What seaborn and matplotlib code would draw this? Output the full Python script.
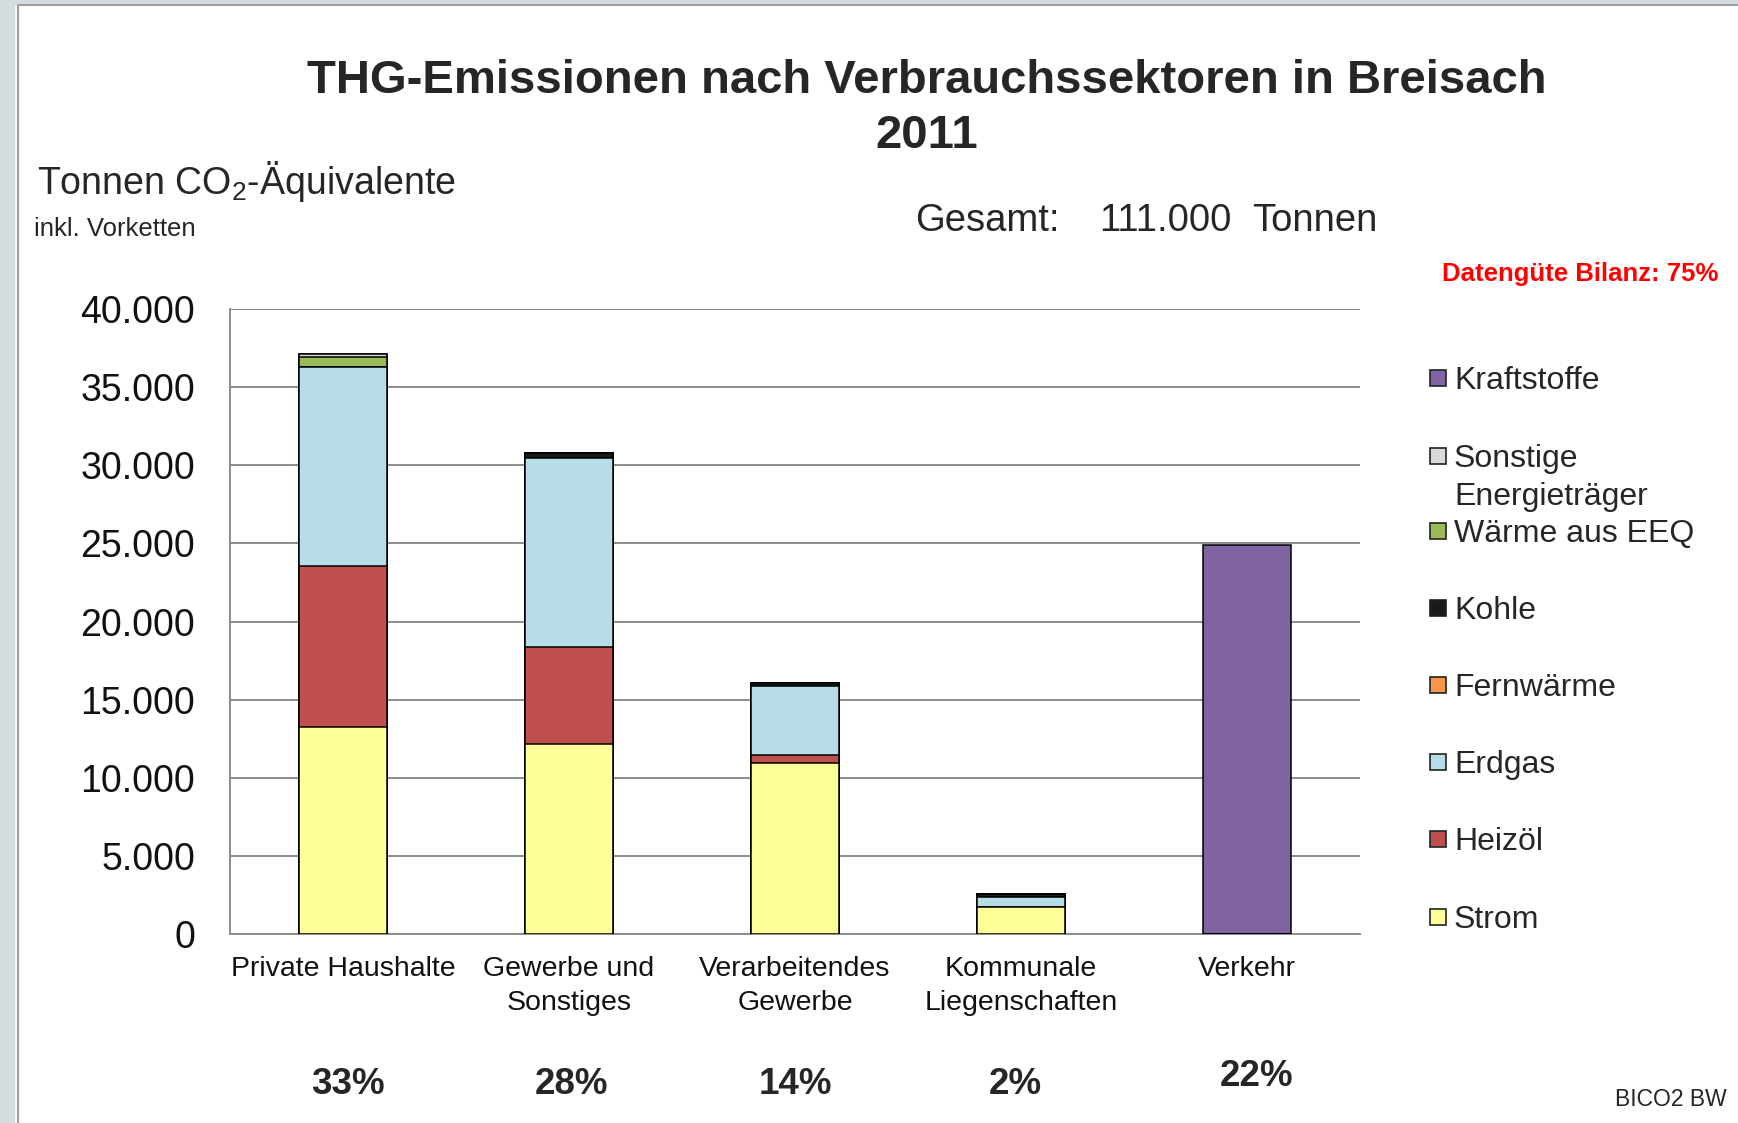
import numpy as np
import pandas as pd
import matplotlib
matplotlib.use("Agg")
import matplotlib.pyplot as plt
import seaborn as sns
from matplotlib.patches import Rectangle
from matplotlib.lines import Line2D
from matplotlib.ticker import FuncFormatter, FixedLocator

# Sectors (x categories)
sektoren = ["Private Haushalte", "Gewerbe und\nSonstiges", "Verarbeitendes\nGewerbe",
            "Kommunale\nLiegenschaften", "Verkehr"]

# Energy carriers, stacked bottom -> top (t CO2-eq)
traeger = ["Strom", "Heizöl", "Erdgas", "Fernwärme", "Kohle", "Wärme aus EEQ",
           "Sonstige\nEnergieträger", "Kraftstoffe"]
strom = [13280, 12140, 10960, 1750, 0]
heizoel = [10280, 6220, 520, 0, 0]
erdgas = [12740, 12110, 4400, 590, 0]
fernwaerme = [0, 0, 0, 0, 0]
kohle = [0, 300, 170, 190, 0]
waerme_eeq = [620, 0, 0, 0, 0]
sonstige = [200, 0, 0, 0, 0]
kraftstoffe = [0, 0, 0, 0, 24900]

anteile = ["33%", "28%", "14%", "2%", "22%"]
y_ticks = [0, 5000, 10000, 15000, 20000, 25000, 30000, 35000, 40000]

farben = ["#FFFF99", "#C0504D", "#B7DEE8", "#F79646", "#1A1A1A", "#9BBB59",
          "#D9D9D9", "#8064A2"]

W, H = 1738, 1123

# long table + cumulative sums for the stacked look
werte = [strom, heizoel, erdgas, fernwaerme, kohle, waerme_eeq, sonstige, kraftstoffe]
df = pd.DataFrame({
    "Sektor": np.tile(sektoren, len(traeger)),
    "Traeger": np.repeat(traeger, len(sektoren)),
    "Wert": np.concatenate(werte),
})
df["Traeger"] = pd.Categorical(df["Traeger"], categories=traeger, ordered=True)
df = df.sort_values(["Sektor", "Traeger"])
df["Kumuliert"] = df.groupby("Sektor")["Wert"].cumsum()

sns.set_style("white")
plt.rcParams["font.family"] = ["Liberation Sans", "DejaVu Sans"]
plt.rcParams["mathtext.fontset"] = "custom"
plt.rcParams["mathtext.rm"] = "Liberation Sans"

fig = plt.figure(figsize=(W / 100, H / 100), dpi=100)
ax = fig.add_axes([230 / W, 1 - 934 / H, 1130 / W, 625 / H])


def px(x, y):
    return x / W, 1 - y / H


grau = "#8C8C8C"

# draw from top layer down so lower layers cover the cumulative bars
for i in range(len(traeger) - 1, -1, -1):
    sub = df[df["Traeger"] == traeger[i]]
    sns.barplot(data=sub, x="Sektor", y="Kumuliert", order=sektoren, color=farben[i],
                saturation=1, width=0.39, edgecolor="black", linewidth=1.1,
                errorbar=None, ax=ax, zorder=3)

ax.set_xlim(-0.5, 4.5)
ax.set_ylim(0, 40000)
ax.set_xlabel("")
ax.set_ylabel("")
ax.set_yticks(y_ticks)
ax.yaxis.set_major_formatter(FuncFormatter(lambda v, p: f"{v:,.0f}".replace(",", ".")))
ax.yaxis.grid(True, color=grau, linewidth=1.4)
ax.set_axisbelow(True)

ax.set_xticks(range(len(sektoren)))
ax.set_xticklabels(sektoren, fontsize=20.5, color="#111111", linespacing=1.4)
ax.xaxis.set_minor_locator(FixedLocator(np.arange(-0.5, 5, 1)))
ax.tick_params(axis="x", which="major", length=0, pad=16)
ax.tick_params(axis="x", which="minor", length=6, width=1.4, color=grau, direction="out")
ax.tick_params(axis="y", length=6, width=1.4, color=grau, direction="out", pad=19,
               labelsize=27, labelcolor="#111111")

for s in ["top", "right"]:
    ax.spines[s].set_visible(False)
for s in ["left", "bottom"]:
    ax.spines[s].set_color(grau)
    ax.spines[s].set_linewidth(1.4)

# share percentages below the sectors
nudge = [5, 3, 0, -6, 10]
for i, a in enumerate(anteile):
    yy = 1077 if a == "22%" else 1084
    fig.text((230 + 226 * (i + 0.5) + nudge[i]) / W, 1 - yy / H, a, fontsize=26.5,
             fontweight="bold", ha="center", va="center")

# titles and annotations
fig.text(*px(927, 81), "THG-Emissionen nach Verbrauchssektoren in Breisach",
         fontsize=34, fontweight="bold", ha="center", va="center")
fig.text(*px(927, 136), "2011", fontsize=34, fontweight="bold", ha="center", va="center")
fig.text(*px(37, 182), "Tonnen CO$_{\\mathrm{2}}$-Äquivalente", fontsize=27, ha="left", va="center")
fig.text(*px(34, 229), "inkl. Vorketten", fontsize=18.5, ha="left", va="center")
fig.text(*px(915, 221), "Gesamt:", fontsize=27.5, ha="left", va="center")
fig.text(*px(1099, 221), "111.000", fontsize=27.5, ha="left", va="center")
fig.text(*px(1252, 221), "Tonnen", fontsize=27.5, ha="left", va="center")
fig.text(*px(1718, 274), "Datengüte Bilanz: 75%", fontsize=18.5, fontweight="bold",
         color="#FF0000", ha="right", va="center")
fig.text(*px(1727, 1100), "BICO2 BW", fontsize=16.5, ha="right", va="center")

# legend (top entry = top of stack)
leg_y = [917, 839, 762, 685, 608, 531, 456, 378]
for name, col, yy in zip(traeger, farben, leg_y):
    fig.patches.append(Rectangle(px(1430, yy + 8), 16 / W, 16 / H, transform=fig.transFigure,
                                 facecolor=col, edgecolor="#222222", linewidth=1.2))
    fig.text(*px(1454, yy + 3), name.split("\n")[0], fontsize=23, ha="left", va="center")
    if "\n" in name:
        fig.text(*px(1454, yy + 41), name.split("\n")[1], fontsize=23, ha="left", va="center")

# slide frame
fig.patches.append(Rectangle((0, 0), 14 / W, 1, transform=fig.transFigure, color="#D3DCDF"))
fig.patches.append(Rectangle((0, 1 - 4 / H), 1, 4 / H, transform=fig.transFigure, color="#D3DCDF"))
fig.add_artist(Line2D([18 / W, 18 / W], [0, 1 - 5 / H], color="#A0A0A0", linewidth=1.5))
fig.add_artist(Line2D([18 / W, 1], [1 - 5 / H, 1 - 5 / H], color="#A0A0A0", linewidth=1.5))

fig.savefig("out.png", dpi=100)
